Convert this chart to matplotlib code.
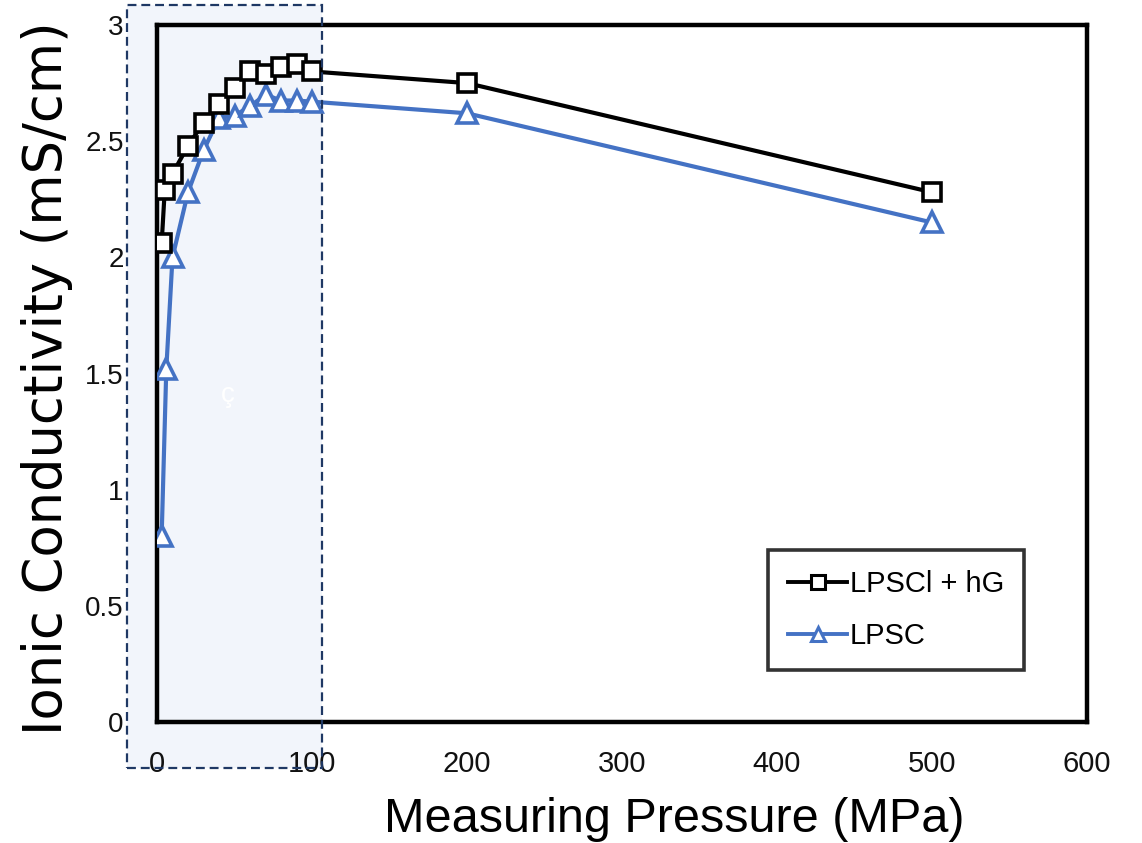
import matplotlib
matplotlib.use("Agg")
import matplotlib.pyplot as plt
from matplotlib.patches import Rectangle

# Data
x_hg = [3, 5, 10, 20, 30, 40, 50, 60, 70, 80, 90, 100, 200, 500]
y_hg = [2.06, 2.29, 2.36, 2.48, 2.58, 2.66, 2.73, 2.80, 2.79, 2.82, 2.83, 2.80, 2.75, 2.28]
x_lpsc = [3, 6, 10, 20, 30, 40, 50, 60, 70, 80, 90, 100, 200, 500]
y_lpsc = [0.80, 1.52, 2.00, 2.28, 2.46, 2.60, 2.61, 2.65, 2.70, 2.675, 2.675, 2.67, 2.62, 2.15]
x_ticks = [0, 100, 200, 300, 400, 500, 600]
y_ticks = [0, 0.5, 1, 1.5, 2, 2.5, 3]
y_ticklabels = ["0", "0.5", "1", "1.5", "2", "2.5", "3"]
label_hg = "LPSCl + hG"
label_lpsc = "LPSC"

W, H = 1142, 843
fig = plt.figure(figsize=(W / 100, H / 100), dpi=100)
fig.patch.set_facecolor("white")

def fx(px):
    return px / W

def fy(py):
    return (H - py) / H

ax = fig.add_axes([fx(157), fy(722), fx(1087) - fx(157), fy(25) - fy(722)])
ax.set_facecolor("none")

# shaded highlight region (behind the axes)
shade = Rectangle((fx(127), fy(768)), fx(322) - fx(127), fy(5) - fy(768),
                  transform=fig.transFigure, facecolor="#f2f5fb", edgecolor="none",
                  zorder=-5)
fig.patches.append(shade)
border = Rectangle((fx(127), fy(768)), fx(322) - fx(127), fy(5) - fy(768),
                   transform=fig.transFigure, facecolor="none", edgecolor="#1f3864",
                   linewidth=1.6, linestyle=(0, (4, 2.2)), zorder=10)
fig.patches.append(border)

ax.plot(x_hg, y_hg, color="black", linewidth=3.0, marker="s", markersize=13.5,
        markerfacecolor="white", markeredgecolor="black", markeredgewidth=2.6,
        label=label_hg, zorder=4)
ax.plot(x_lpsc, y_lpsc, color="#4472c4", linewidth=3.0, marker="^", markersize=14,
        markerfacecolor="white", markeredgecolor="#4472c4", markeredgewidth=2.6,
        label=label_lpsc, zorder=3)

ax.set_xlim(0, 600)
ax.set_ylim(0, 3)
ax.set_xticks(x_ticks)
ax.set_yticks(y_ticks)
ax.set_yticklabels(y_ticklabels)
ax.tick_params(axis="both", length=0, labelcolor="#111111")
ax.tick_params(axis="x", pad=20, labelsize=21)
ax.tick_params(axis="y", pad=24, labelsize=20)
for lab in ax.get_xticklabels() + ax.get_yticklabels():
    lab.set_fontfamily("Liberation Sans")

for sp in ax.spines.values():
    sp.set_linewidth(3.2)
    sp.set_color("black")

fig.text(fx(47), fy(378), "Ionic Conductivity (mS/cm)", rotation=90,
         ha="center", va="center", fontsize=38, family="DejaVu Sans", color="black")
fig.text(fx(674), fy(819), "Measuring Pressure (MPa)", ha="center", va="center",
         fontsize=35, family="Liberation Sans", color="black")
fig.text(fx(228), fy(395), "ç", ha="center", va="center", fontsize=20,
         family="Liberation Sans", color="white")

leg = ax.legend(loc="upper left", bbox_to_anchor=(fx(768), fy(550)),
                bbox_transform=fig.transFigure, frameon=True, fancybox=False,
                prop={"family": "Liberation Sans", "size": 21},
                handlelength=2.0, handletextpad=0.1, borderpad=0.7,
                labelspacing=0.8, markerscale=0.75, borderaxespad=0)
leg.get_frame().set_edgecolor("black")
leg.get_frame().set_linewidth(2.6)
for h in leg.legend_handles:
    h.set_markeredgewidth(2.2)
    h.set_linewidth(2.8)

fig.savefig("out.png", dpi=100)
